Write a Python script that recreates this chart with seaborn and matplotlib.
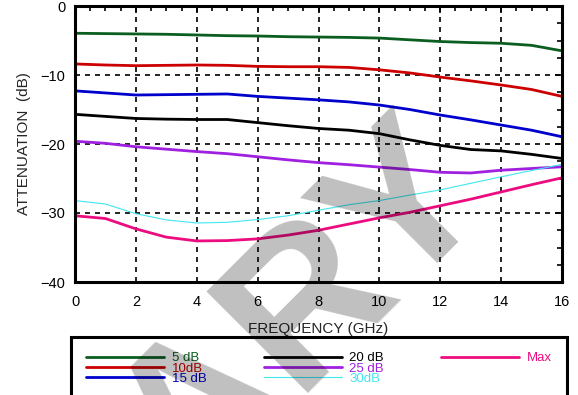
import numpy as np
import pandas as pd
import matplotlib.pyplot as plt
from matplotlib.lines import Line2D
from matplotlib.ticker import MultipleLocator
import seaborn as sns

# Plot style
sns.set_style('white')
plt.rcParams['font.family'] = ['Liberation Sans', 'DejaVu Sans']

# Attenuation vs frequency (dB)
freq = list(range(0, 17))
att_5db = [-3.95, -4.0, -4.05, -4.1, -4.2, -4.3, -4.35, -4.45, -4.5,
           -4.55, -4.65, -4.9, -5.15, -5.3, -5.4, -5.7, -6.5]
att_10db = [-8.4, -8.55, -8.65, -8.6, -8.55, -8.6, -8.75, -8.8, -8.8,
            -8.9, -9.25, -9.7, -10.3, -10.85, -11.45, -12.1, -13.1]
att_15db = [-12.3, -12.6, -12.9, -12.85, -12.8, -12.75, -13.1, -13.35, -13.6,
            -13.9, -14.35, -15.0, -15.8, -16.5, -17.25, -18.0, -18.95]
att_20db = [-15.7, -16.0, -16.3, -16.4, -16.45, -16.45, -16.9, -17.35, -17.75,
            -18.0, -18.5, -19.4, -20.2, -20.8, -21.0, -21.5, -22.1]
att_25db = [-19.6, -19.9, -20.4, -20.75, -21.1, -21.4, -21.85, -22.3, -22.7,
            -23.0, -23.35, -23.7, -24.1, -24.2, -23.8, -23.55, -23.3]
att_30db = [-28.2, -28.7, -30.1, -31.0, -31.45, -31.35, -30.95, -30.4, -29.6,
            -28.8, -28.2, -27.4, -26.65, -25.7, -24.75, -23.85, -22.95]
att_max = [-30.4, -30.8, -32.3, -33.5, -34.05, -34.0, -33.75, -33.2, -32.5,
           -31.6, -30.7, -29.9, -28.95, -28.0, -26.95, -25.9, -24.9]

labels = ['5 dB', '10dB', '15 dB', '20 dB', '25 dB', '30dB', 'Max']
series = [att_5db, att_10db, att_15db, att_20db, att_25db, att_30db, att_max]
colors = ['#0b5e20', '#cc0000', '#0000cc', '#000000', '#a020e0', '#40e8f0', '#ec0c80']
widths = [2.0, 2.0, 2.0, 2.0, 2.0, 0.8, 2.0]

fig = plt.figure(figsize=(5.78, 3.95), dpi=100)
ax = fig.add_axes([75 / 578, 1 - 282 / 395, (562 - 75) / 578, (282 - 6) / 395])

handles = []
for vals, lab, c, w in zip(series, labels, colors, widths):
    df = pd.DataFrame({'freq': freq, 'att': vals})
    sns.lineplot(data=df, x='freq', y='att', color=c, linewidth=w, ax=ax)
    handles.append(ax.get_lines()[-1])

# Axes, ticks and grid
ax.set_xlim(0, 16)
ax.set_ylim(-40, 0)
ax.xaxis.set_major_locator(MultipleLocator(2))
ax.xaxis.set_minor_locator(MultipleLocator(0.5))
ax.yaxis.set_major_locator(MultipleLocator(10))
ax.yaxis.set_minor_locator(MultipleLocator(2.5))
ax.tick_params(which='both', direction='in', top=True, right=True,
               colors='black', labelsize=10.5)
ax.tick_params(which='major', length=5, width=1.2)
ax.tick_params(axis='x', which='major', pad=9)
ax.tick_params(axis='y', which='major', pad=7)
ax.tick_params(which='minor', length=3.5, width=1.2)
ax.grid(True, which='major', color='black', linestyle=(0, (3, 3)), linewidth=1.2)
for sp in ax.spines.values():
    sp.set_color('black')
    sp.set_linewidth(2.2)

ax.set_xlabel('FREQUENCY (GHz)', fontsize=11, labelpad=10)
ax.set_ylabel('ATTENUATION  (dB)', fontsize=11, labelpad=7)

# Legend box below the plot (two blank slots so Max sits alone in column 3)
blank = [Line2D([], [], color='none') for _ in range(2)]
leg = ax.legend(handles + blank, labels + ['', ''], loc='upper left',
                bbox_to_anchor=(71 / 578, 0, 496 / 578, 1 - 337 / 395),
                bbox_transform=fig.transFigure, mode='expand', ncol=3,
                fontsize=9.5, frameon=True, fancybox=False, edgecolor='black',
                framealpha=1, borderpad=1.15, borderaxespad=0,
                handlelength=5.9, handletextpad=0.6, labelspacing=-0.15,
                labelcolor='linecolor')
leg.get_frame().set_linewidth(2.2)

# Watermark
fig.text(0.855, 0.511, 'PRELIMINARY', rotation=45,
         rotation_mode='anchor', ha='right', va='baseline',
         fontsize=150, fontweight='bold', color='black', alpha=0.25)

fig.savefig('out.png', dpi=100)
